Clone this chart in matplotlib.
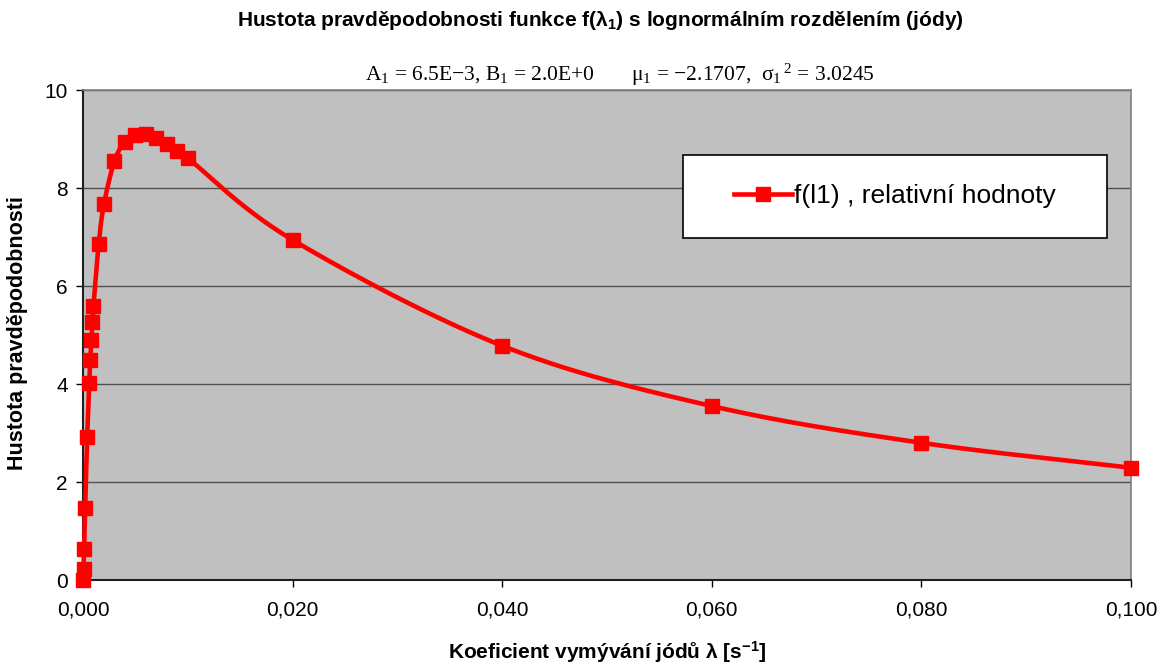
import numpy as np
import matplotlib
matplotlib.use("Agg")
import matplotlib.pyplot as plt
from matplotlib.patches import Rectangle
from matplotlib.ticker import FuncFormatter

# ---- data ----
lam = [0.00001, 0.00005, 0.0001, 0.0002, 0.0004, 0.0006, 0.0007, 0.0008, 0.0009, 0.001,
       0.0015, 0.002, 0.003, 0.004, 0.005, 0.006, 0.007, 0.008, 0.009, 0.010,
       0.020, 0.040, 0.060, 0.080, 0.100]
f_rel = [0.01, 0.23, 0.63, 1.47, 2.91, 4.03, 4.50, 4.90, 5.27, 5.60,
         6.86, 7.67, 8.55, 8.94, 9.08, 9.10, 9.02, 8.90, 8.76, 8.61,
         6.94, 4.78, 3.55, 2.80, 2.29]
x_ticks = [0.0, 0.02, 0.04, 0.06, 0.08, 0.10]
y_ticks = [0, 2, 4, 6, 8, 10]
series_label = "f(l1) , relativní hodnoty"
title = "Hustota pravděpodobnosti funkce f($\\mathregular{λ_1}$) s lognormálním rozdělením (jódy)"
subtitle = ("A$\\mathregular{_1}$ = 6.5E−3, B$\\mathregular{_1}$ = 2.0E+0       "
            "μ$\\mathregular{_1}$ = −2.1707,  σ$\\mathregular{_1}$$\\mathregular{^{\\,2}}$ = 3.0245")
xlabel = "Koeficient vymývání jódů λ [s$\\mathregular{^{-1}}$]"
ylabel = "Hustota pravděpodobnosti"


def catmull_rom(x, y, n=20):
    x = np.asarray(x, float); y = np.asarray(y, float)
    P = np.column_stack([x, y])
    P = np.vstack([P[0] - (P[1] - P[0]), P, P[-1] + (P[-1] - P[-2])])
    out = []
    for i in range(1, len(P) - 2):
        p0, p1, p2, p3 = P[i - 1], P[i], P[i + 1], P[i + 2]
        t = np.linspace(0, 1, n, endpoint=False)[:, None]
        seg = 0.5 * ((2 * p1) + (-p0 + p2) * t + (2 * p0 - 5 * p1 + 4 * p2 - p3) * t ** 2
                     + (-p0 + 3 * p1 - 3 * p2 + p3) * t ** 3)
        out.append(seg)
    out.append(P[-2][None, :])
    S = np.vstack(out)
    return S[:, 0], S[:, 1]


plt.rcParams['font.family'] = ['Liberation Sans', 'DejaVu Sans']

fig = plt.figure(figsize=(11.58, 6.64), dpi=100)
fig.patch.set_facecolor('white')
ax = fig.add_axes([83 / 1158, 1 - 580 / 664, (1131 - 83) / 1158, (580 - 90) / 664])
ax.set_facecolor('#C0C0C0')

# smooth line (Excel-style smoothing) in normalized space so the spline is well-behaved
xs, ys = catmull_rom(np.array(lam) / 0.1, np.array(f_rel) / 10.0, n=30)
ax.plot(xs * 0.1, ys * 10.0, color='#FF0000', lw=3.3, solid_capstyle='round', zorder=3,
        clip_on=False)
ax.plot(lam, f_rel, linestyle='none', marker='s', markersize=10.5, color='#FF0000',
        markeredgecolor='#FF0000', zorder=4, clip_on=False)

ax.set_xlim(0, 0.1)
ax.set_ylim(0, 10)
ax.set_xticks(x_ticks)
ax.set_yticks(y_ticks)
ax.xaxis.set_major_formatter(FuncFormatter(lambda v, p: f"{v:.3f}".replace('.', ',')))
ax.yaxis.set_major_formatter(FuncFormatter(lambda v, p: f"{v:.0f}"))
ax.tick_params(axis='both', direction='out', length=5, width=1, color='#000000',
               labelsize=15, pad=6)
ax.tick_params(axis='x', pad=10)
ax.grid(axis='y', color='#505050', lw=1)
ax.set_axisbelow(True)
for s in ['top', 'right']:
    ax.spines[s].set_color('#808080')
    ax.spines[s].set_linewidth(1.2)
for s in ['left', 'bottom']:
    ax.spines[s].set_color('#202020')
    ax.spines[s].set_linewidth(1.5)

fig.text(600 / 1158, 1 - 20 / 664, title, ha='center', va='center', fontsize=15, fontweight='bold')
fig.text(620 / 1158, 1 - 75 / 664, subtitle, ha='center', va='center', fontsize=15.5,
         family=['Liberation Serif', 'DejaVu Serif'])
fig.text(607 / 1158, 1 - 652 / 664, xlabel, ha='center', va='center', fontsize=15,
         fontweight='bold')
fig.text(18 / 1158, 1 - 333 / 664, ylabel, ha='center', va='center', rotation=90,
         fontsize=15.5, fontweight='bold')

# legend box
x0, y0, x1, y1 = 683 / 1158, 1 - 238 / 664, 1107 / 1158, 1 - 155 / 664
fig.patches.append(Rectangle((x0, y0), x1 - x0, y1 - y0, transform=fig.transFigure,
                             facecolor='white', edgecolor='#000000', lw=1.2, zorder=5))
h, = ax.plot([], [], color='#FF0000', lw=3.3, marker='s', markersize=10.5)
leg = fig.legend([h], [series_label], loc='center', bbox_to_anchor=((x0 + x1) / 2, (y0 + y1) / 2),
                 frameon=False, fontsize=19, handlelength=2.2, handletextpad=0.1)
leg.set_zorder(6)

fig.savefig('out.png', dpi=100)
